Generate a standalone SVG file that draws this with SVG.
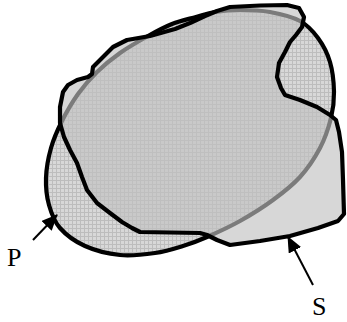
<svg xmlns="http://www.w3.org/2000/svg" width="347" height="322" viewBox="0 0 347 322">
  <defs>
    <!-- fine grid texture for region P -->
    <pattern id="hatch" width="4" height="4" patternUnits="userSpaceOnUse">
      <rect width="4" height="4" fill="#d8d8d8"/>
      <path d="M0,0.5 H4 M0.5,0 V4" stroke="#bdbdbd" stroke-width="1" fill="none"/>
    </pattern>
    <marker id="head" viewBox="0 0 16 14" markerWidth="16" markerHeight="14" refX="15" refY="7" orient="auto" markerUnits="userSpaceOnUse">
      <path d="M0,0 L16,7 L0,14 z" fill="#000"/>
    </marker>
  </defs>
  <style>
    .outline { stroke: #000; stroke-width: 4.2; stroke-linejoin: round; stroke-linecap: round; }
    .region-p { fill: url(#hatch); }
    .region-s { fill: #c0c0c0; fill-opacity: 0.64; }
    .pointer { stroke: #000; stroke-width: 2; fill: none; marker-end: url(#head); }
    .label { font-family: "Liberation Serif", "Times New Roman", serif; font-size: 26px; fill: #000; }
  </style>

  <!-- region P: smooth blob, drawn first so S shows it through -->
  <g id="P">
    <path class="region-p outline" d="M207,237
      C216.5,232.83 229,227.17 240,221
      C251,214.83 263,207.33 273,200
      C283,192.67 292.17,185.67 300,177
      C307.83,168.33 314.83,157.83 320,148
      C325.17,138.17 328.67,127.33 331,118
      C333.33,108.67 334.17,101.33 334,92
      C333.83,82.67 332.67,71 330,62
      C327.33,53 323,44.83 318,38
      C313,31.17 308,25.33 300,21
      C292,16.67 280,13.83 270,12
      C260,10.17 249.17,10 240,10
      C230.83,10 222.33,10.83 215,12
      C207.67,13.17 203.17,15 196,17
      C188.83,19 180,20.83 172,24
      C164,27.17 156.67,31.17 148,36
      C139.33,40.83 128.5,47 120,53
      C111.5,59 104,65.17 97,72
      C90,78.83 83.83,85.83 78,94
      C72.17,102.17 66.5,112 62,121
      C57.5,130 53.67,138.5 51,148
      C48.33,157.5 46.33,168.5 46,178
      C45.67,187.5 46.67,196.67 49,205
      C51.33,213.33 54,221.17 60,228
      C66,234.83 75,241.5 85,246
      C95,250.5 108.33,253.83 120,255
      C131.67,256.17 144.5,254.5 155,253
      C165.5,251.5 174.33,248.67 183,246
      C191.67,243.33 197.5,241.17 207,237 Z"/>
  </g>

  <!-- region S: irregular outline with a translucent fill -->
  <g id="S">
    <path class="region-s outline" d="M230,7 L260,5.5 L287,5 L299,8 L304,17 L302,27 L296,35 L290,42 L285,52 L279,63 L277,77 L281,88 L285,95
      L300,100 L317,107 L330,115 L336,120 L339,132 L342,152 L343,180 L344,214
      L338,221 L318,228 L290,236 L260,241 L230,245 L217,240 L207,235 L200,233 L170,232.5 L140,232
      L132,228 L122,222 L110,213 L97,203 L87,190 L82,177 L77,163 L70,150 L64,137 L60,123 L60,107 L63,92
      L68,85 L77,80 L88,77 L92,74 L93,67 L98,62 L105,55 L113,47 L127,40 L150,36 L175,29 L190,23 L205,16 L217,11 Z"/>
  </g>

  <!-- labels -->
  <text class="label" x="7" y="266">P</text>
  <text class="label" x="312" y="315">S</text>

  <!-- pointers from labels to outlines -->
  <g id="connectors">
    <line class="pointer" x1="33" y1="240" x2="57" y2="215"/>
    <line class="pointer" x1="313" y1="285" x2="288" y2="237"/>
  </g>
</svg>
